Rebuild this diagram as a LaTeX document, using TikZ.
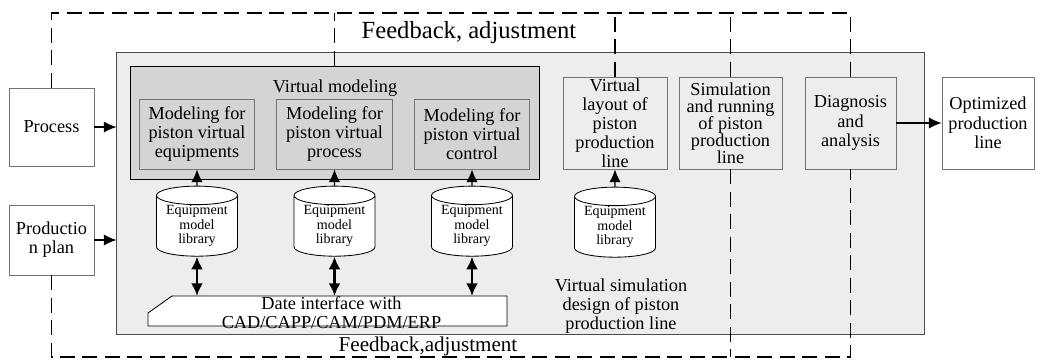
\documentclass[tikz,border=0pt]{standalone}
\usepackage{fontspec}
\setmainfont{Liberation Serif}
\usetikzlibrary{shapes.geometric,arrows.meta,calc}

\begin{document}
\begin{tikzpicture}[x=0.025cm, y=-0.025cm,
    every node/.style={font=\fontsize{13}{13.5}\selectfont, align=center, inner sep=1pt},
    box/.style={draw=black!55, line width=0.6pt, minimum height=2.3cm},
    subbox/.style={draw=black!55, fill=black!17, line width=0.6pt, minimum width=2.88cm, minimum height=1.75cm},
    lib/.style={cylinder, shape border rotate=90, aspect=0.3, draw, fill=white, line width=0.6pt,
      minimum width=2.025cm, minimum height=1.6cm, inner sep=0pt, font=\fontsize{10}{10.5}\selectfont},
    fb/.style={line width=1.2pt, dash pattern=on 10.5pt off 5.5pt},
    flow/.style={-{Latex[length=9pt,width=8pt]}, line width=0.8pt},
    both/.style={{Latex[length=9pt,width=8.5pt]}-{Latex[length=9pt,width=8.5pt]}, line width=1.8pt}]
    \useasboundingbox (0,0) rectangle (1038,362);

    % containers
    \node[draw=black!70, fill=black!7, line width=0.6pt, minimum width=20.175cm, minimum height=7.05cm] (design) at (520.5,193) {};
    \node[draw, fill=black!17, line width=0.6pt, minimum width=10.225cm, minimum height=2.825cm] (vm) at (334.5,122.5) {};
    \node (vmtitle) at (335,88) {Virtual modeling};

    % inputs and output
    \node[box, fill=white, minimum width=2.125cm, minimum height=1.95cm] (process) at (51.5,127) {Process};
    \node[box, fill=white, minimum width=2.125cm, minimum height=1.75cm] (plan) at (51.5,240) {Productio\\n plan};
    \node[box, fill=white, minimum width=2.3cm, font=\fontsize{13}{14}\selectfont] (opt) at (988,123) {Optimized\\production\\line};

    % modeling
    \node[subbox] (equip) at (197,134) {Modeling for\\piston virtual\\equipments};
    \node[subbox] (proc) at (334.5,134) {Modeling for\\piston virtual\\process};
    \node[subbox] (ctrl) at (472,134) {Modeling for\\piston virtual\\control};

    \node[box, minimum width=2.6cm] (layout) at (615,123) {Virtual\\layout of\\piston\\production\\line};
    \node[box, minimum width=2.575cm, font=\fontsize{13}{12}\selectfont] (sim) at (730.5,123) {Simulation\\and running\\of piston\\production\\line};
    \node[box, minimum width=2.275cm, font=\fontsize{13}{14}\selectfont] (diag) at (850.5,123) {Diagnosis\\and\\analysis};

    % libraries
    \node[lib] (lib1) at (197,226) {Equipment\\model\\library};
    \node[lib] (lib2) at (334.5,226) {Equipment\\model\\library};
    \node[lib] (lib3) at (472,226) {Equipment\\model\\library};
    \node[lib] (lib4) at (615,227) {Equipment\\model\\library};

    % data interface
    \coordinate (ifnw) at (148,296);
    \coordinate (ifse) at (507,326);
    \draw[fill=white, line width=0.6pt] ($(ifnw)+(0,17)$) -- ($(ifnw)+(24,0)$) -- (ifnw -| ifse) -- (ifse) -- (ifnw |- ifse) -- cycle;
    \node[inner sep=0pt] (iface) at ($(ifnw)!0.5!(ifse)+(4,1.5)$) {Date interface with\\CAD/CAPP/CAM/PDM/ERP};

    \node (simtext) at (621,306) {Virtual simulation\\design of piston\\production line};
    \node[font=\fontsize{17.5}{18}\selectfont] (fbtop) at (469,33) {Feedback, adjustment};
    \node[font=\fontsize{15}{16}\selectfont] (fbbot) at (428,346) {Feedback,adjustment};

    % arrows
    \draw[flow] (process.east) -- (process.east -| design.west);
    \draw[flow] (plan.east) -- (plan.east -| design.west);
    \draw[flow] (diag.east) -- (opt.west);
    \draw[flow] (lib1.north) -- (equip.south);
    \draw[flow] (lib2.north) -- (proc.south);
    \draw[flow] (lib3.north) -- (ctrl.south);
    \draw[flow] (lib4.north) -- (layout.south);
    \draw[both] (lib1.south) -- (lib1.south |- ifnw);
    \draw[both] (lib2.south) -- (lib2.south |- ifnw);
    \draw[both] (lib3.south) -- (lib3.south |- ifnw);

    % feedback loops
    \coordinate (tl) at (52,13);
    \coordinate (bl) at (52,357);
    \draw[fb] (process.north) -- (process.north |- tl) -- (diag.north |- tl) -- (diag.north);
    \draw[fb] (vm.north) -- (vm.north |- tl);
    \draw[fb] (layout.north) -- (layout.north |- tl);
    \draw[fb] (sim.north) -- (sim.north |- tl);
    \draw[fb] (plan.south) -- (plan.south |- bl) -- (diag.south |- bl) -- (diag.south);
    \draw[fb] (sim.south) -- (sim.south |- bl);
\end{tikzpicture}
\end{document}
